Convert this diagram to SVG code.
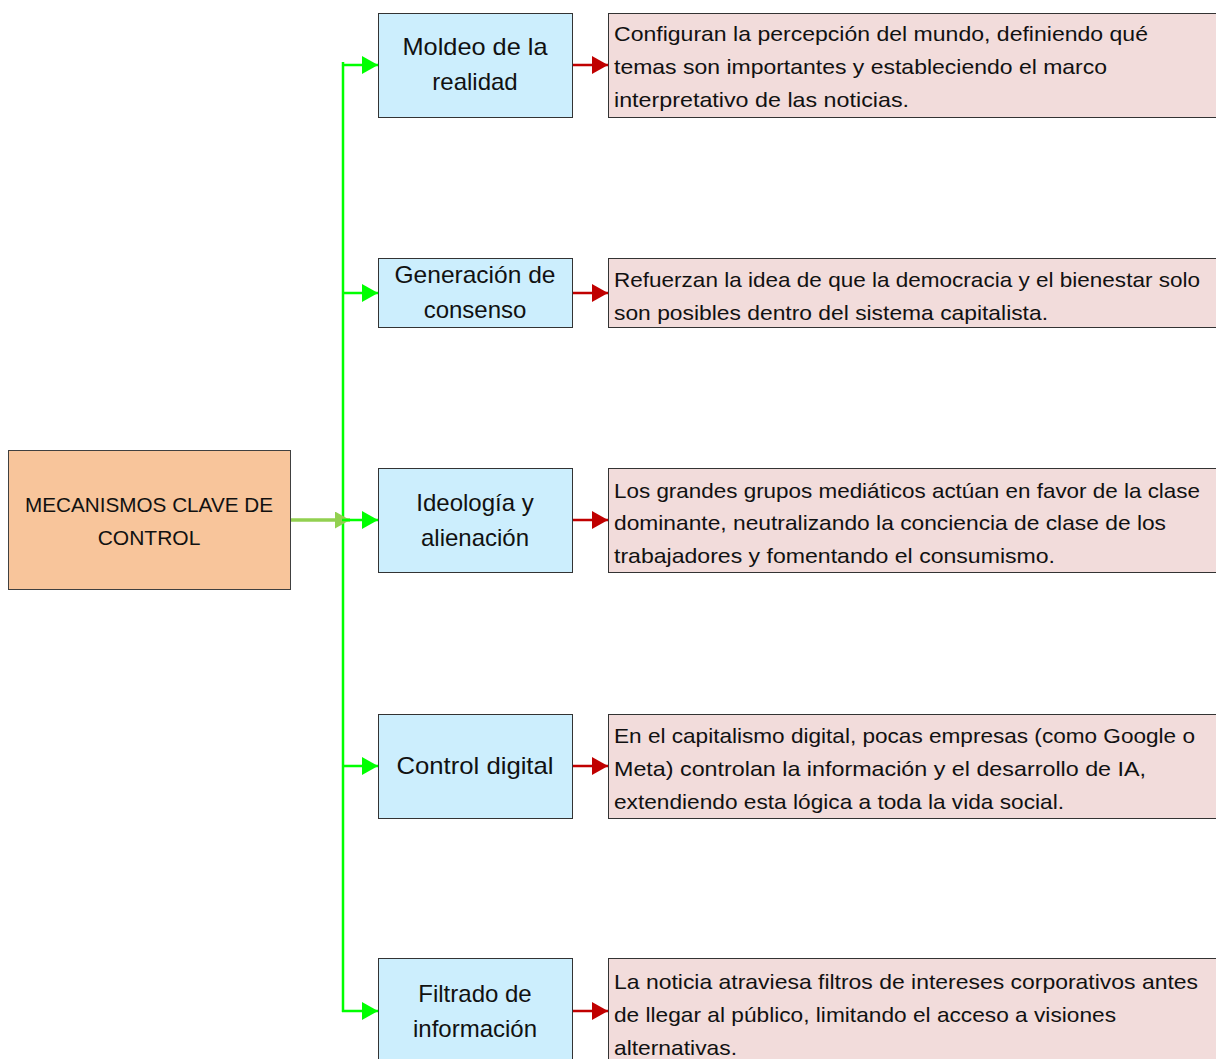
<svg xmlns="http://www.w3.org/2000/svg" width="1216" height="1059" viewBox="0 0 1216 1059">
<style>
.root{fill:#F8C59B;stroke:#404040;stroke-width:1}
.br{fill:#CCEEFD;stroke:#333;stroke-width:1}
.tx{fill:#F2DCDB;stroke:#333;stroke-width:1}
text{font-family:"Liberation Sans",Arial,sans-serif;fill:#111}
.bt{font-size:24px;text-anchor:middle}
.rt{font-size:21px}
.ot{font-size:21px;text-anchor:middle}
.g{stroke:#00FF00;stroke-width:2.5;fill:none}
.r{stroke:#C00000;stroke-width:2.5;fill:none}
</style>
<defs>
<marker id="ag" markerUnits="userSpaceOnUse" markerWidth="16" markerHeight="18" refX="16" refY="9" orient="auto"><path d="M0,0 L16,9 L0,18 Z" fill="#00FF00"/></marker>
<marker id="ar" markerUnits="userSpaceOnUse" markerWidth="16" markerHeight="18" refX="16" refY="9" orient="auto"><path d="M0,0 L16,9 L0,18 Z" fill="#C00000"/></marker>
<marker id="al" markerUnits="userSpaceOnUse" markerWidth="15" markerHeight="17" refX="15" refY="8.5" orient="auto"><path d="M0,0 L15,8.5 L0,17 Z" fill="#92D050"/></marker>
</defs>
<g id="connectors">
<line class="g" x1="343" y1="62" x2="343" y2="1012"/>
<line x1="291" y1="520" x2="350" y2="520" stroke="#92D050" stroke-width="3.5" marker-end="url(#al)"/>
<line class="g" x1="342" y1="65" x2="378" y2="65" marker-end="url(#ag)"/>
<line class="g" x1="342" y1="293" x2="378" y2="293" marker-end="url(#ag)"/>
<line class="g" x1="342" y1="520" x2="378" y2="520" marker-end="url(#ag)"/>
<line class="g" x1="342" y1="766" x2="378" y2="766" marker-end="url(#ag)"/>
<line class="g" x1="342" y1="1011" x2="378" y2="1011" marker-end="url(#ag)"/>
<line class="r" x1="572" y1="65" x2="608" y2="65" marker-end="url(#ar)"/>
<line class="r" x1="572" y1="293" x2="608" y2="293" marker-end="url(#ar)"/>
<line class="r" x1="572" y1="520" x2="608" y2="520" marker-end="url(#ar)"/>
<line class="r" x1="572" y1="766" x2="608" y2="766" marker-end="url(#ar)"/>
<line class="r" x1="572" y1="1011" x2="608" y2="1011" marker-end="url(#ar)"/>
</g>
<g id="root">
<rect class="root" x="8.5" y="450.5" width="282" height="139"/>
<text class="ot" x="149" y="512" textLength="248" lengthAdjust="spacingAndGlyphs">MECANISMOS CLAVE DE</text>
<text class="ot" x="149" y="545">CONTROL</text>
</g>
<g id="n1">
<rect class="br" x="378.5" y="13.5" width="194" height="104"/>
<text class="bt" x="475" y="55" textLength="145" lengthAdjust="spacingAndGlyphs">Moldeo de la</text>
<text class="bt" x="475" y="90">realidad</text>
</g>
<g id="n2">
<rect class="br" x="378.5" y="258.5" width="194" height="69"/>
<text class="bt" x="475" y="283" textLength="161" lengthAdjust="spacingAndGlyphs">Generación de</text>
<text class="bt" x="475" y="318">consenso</text>
</g>
<g id="n3">
<rect class="br" x="378.5" y="468.5" width="194" height="104"/>
<text class="bt" x="475" y="511">Ideología y</text>
<text class="bt" x="475" y="546">alienación</text>
</g>
<g id="n4">
<rect class="br" x="378.5" y="714.5" width="194" height="104"/>
<text class="bt" x="475" y="774" textLength="157" lengthAdjust="spacingAndGlyphs">Control digital</text>
</g>
<g id="n5">
<rect class="br" x="378.5" y="958.5" width="194" height="110"/>
<text class="bt" x="475" y="1002">Filtrado de</text>
<text class="bt" x="475" y="1037">información</text>
</g>
<g id="d1">
<rect class="tx" x="608.5" y="13.5" width="620" height="104"/>
<text class="rt" x="614" y="41" textLength="534" lengthAdjust="spacingAndGlyphs">Configuran la percepción del mundo, definiendo qué</text>
<text class="rt" x="614" y="74" textLength="493" lengthAdjust="spacingAndGlyphs">temas son importantes y estableciendo el marco</text>
<text class="rt" x="614" y="107" textLength="295" lengthAdjust="spacingAndGlyphs">interpretativo de las noticias.</text>
</g>
<g id="d2">
<rect class="tx" x="608.5" y="258.5" width="620" height="69"/>
<text class="rt" x="614" y="287" textLength="586" lengthAdjust="spacingAndGlyphs">Refuerzan la idea de que la democracia y el bienestar solo</text>
<text class="rt" x="614" y="320" textLength="434" lengthAdjust="spacingAndGlyphs">son posibles dentro del sistema capitalista.</text>
</g>
<g id="d3">
<rect class="tx" x="608.5" y="468.5" width="620" height="104"/>
<text class="rt" x="614" y="498" textLength="586" lengthAdjust="spacingAndGlyphs">Los grandes grupos mediáticos actúan en favor de la clase</text>
<text class="rt" x="614" y="530" textLength="552" lengthAdjust="spacingAndGlyphs">dominante, neutralizando la conciencia de clase de los</text>
<text class="rt" x="614" y="563" textLength="441" lengthAdjust="spacingAndGlyphs">trabajadores y fomentando el consumismo.</text>
</g>
<g id="d4">
<rect class="tx" x="608.5" y="714.5" width="620" height="104"/>
<text class="rt" x="614" y="743" textLength="581" lengthAdjust="spacingAndGlyphs">En el capitalismo digital, pocas empresas (como Google o</text>
<text class="rt" x="614" y="776" textLength="532" lengthAdjust="spacingAndGlyphs">Meta) controlan la información y el desarrollo de IA,</text>
<text class="rt" x="614" y="809" textLength="450" lengthAdjust="spacingAndGlyphs">extendiendo esta lógica a toda la vida social.</text>
</g>
<g id="d5">
<rect class="tx" x="608.5" y="958.5" width="620" height="110"/>
<text class="rt" x="614" y="989" textLength="584" lengthAdjust="spacingAndGlyphs">La noticia atraviesa filtros de intereses corporativos antes</text>
<text class="rt" x="614" y="1022" textLength="502" lengthAdjust="spacingAndGlyphs">de llegar al público, limitando el acceso a visiones</text>
<text class="rt" x="614" y="1055" textLength="123" lengthAdjust="spacingAndGlyphs">alternativas.</text>
</g>
</svg>
